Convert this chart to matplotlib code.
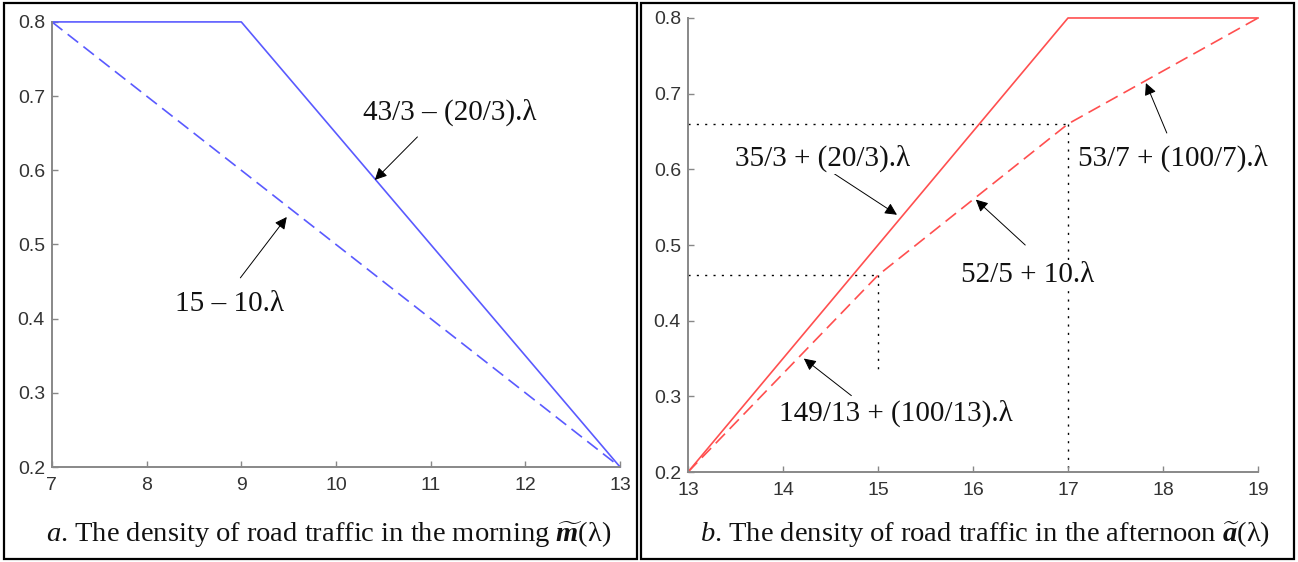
import matplotlib
matplotlib.use("Agg")
import matplotlib.pyplot as plt
from matplotlib.patches import Rectangle

plt.rcParams["font.family"] = "Liberation Sans"
plt.rcParams["xtick.labelsize"] = 14
plt.rcParams["ytick.labelsize"] = 14
plt.rcParams["mathtext.fontset"] = "custom"
plt.rcParams["mathtext.rm"] = "Liberation Serif"
plt.rcParams["mathtext.it"] = "Liberation Serif:italic"
plt.rcParams["mathtext.bf"] = "Liberation Serif:bold"
plt.rcParams["mathtext.bfit"] = "Liberation Serif:bold:italic"

# morning panel (a)
morning_x_solid = [7, 9, 13]
morning_y_solid = [0.8, 0.8, 0.2]
morning_x_dash = [7, 13]
morning_y_dash = [0.8, 0.2]

# afternoon panel (b)
after_x_solid = [13, 17, 19]
after_y_solid = [0.2, 0.8, 0.8]
after_x_dash = [13, 15, 17, 19]
after_y_dash = [0.2, 0.46, 0.66, 0.8]

morning_xticks = [7, 8, 9, 10, 11, 12, 13]
after_xticks = [13, 14, 15, 16, 17, 18, 19]
yticks = [0.2, 0.3, 0.4, 0.5, 0.6, 0.7, 0.8]

# (label, text position, arrow tail, arrow head)
morning_notes = [
    ("43/3 \u2013 (20/3).\u03bb", (11.2, 0.678), (10.86, 0.645), (10.41, 0.587)),
    ("15 \u2013 10.\u03bb", (8.88, 0.42), (8.99, 0.455), (9.48, 0.537)),
]
after_notes = [
    ("35/3 + (20/3).\u03bb", (14.42, 0.614), (14.53, 0.595), (15.2, 0.54)),
    ("52/5 + 10.\u03bb", (16.57, 0.46), (16.55, 0.5), (16.03, 0.56)),
    ("149/13 + (100/13).\u03bb", (15.19, 0.278), (14.72, 0.301), (14.22, 0.35)),
    ("53/7 + (100/7).\u03bb", (18.1, 0.614), (18.04, 0.648), (17.82, 0.714)),
]

BLUE = "#5a5aff"
RED = "#ff4f4f"
SERIF = "Liberation Serif"


def style_axes(ax, xlim, xticks):
    ax.set_xlim(*xlim)
    ax.set_ylim(0.2, 0.8)
    ax.set_xticks(xticks)
    ax.set_yticks(yticks)
    ax.set_xticklabels([str(t) for t in xticks])
    ax.set_yticklabels([f"{t:.1f}" for t in yticks])
    for s in ("top", "right"):
        ax.spines[s].set_visible(False)
    for s in ("left", "bottom"):
        ax.spines[s].set_color("#888888")
        ax.spines[s].set_linewidth(1.4)
    ax.tick_params(direction="in", length=4, width=1, color="#888888",
                   labelcolor="#333333")
    ax.tick_params(axis="x", pad=7)
    ax.tick_params(axis="y", pad=5)


def add_notes(ax, notes):
    for label, tpos, tail, head in notes:
        ax.annotate("", xy=head, xytext=tail,
                    arrowprops=dict(arrowstyle="-|>", color="black", lw=0.7,
                                    mutation_scale=18, shrinkA=0, shrinkB=0))
        ax.text(tpos[0], tpos[1], label, family=SERIF, fontsize=21,
                ha="center", va="center", color="#111111", zorder=5,
                bbox=dict(facecolor="white", edgecolor="none", pad=1))


fig = plt.figure(figsize=(12.98, 5.62), dpi=100)

ax_m = fig.add_axes([0.040, 0.169, 0.4377, 0.792])
ax_m.plot(morning_x_solid, morning_y_solid, color=BLUE, lw=1.2, clip_on=False)
ax_m.plot(morning_x_dash, morning_y_dash, color=BLUE, lw=1.2,
          linestyle=(0, (8, 4)), clip_on=False)
style_axes(ax_m, (7, 13), morning_xticks)
add_notes(ax_m, morning_notes)

ax_a = fig.add_axes([0.530, 0.160, 0.4392, 0.808])
dot = dict(color="black", lw=1.0, linestyle=(0, (1.5, 4.5)), zorder=1)
ax_a.plot([13, 17], [0.66, 0.66], **dot)
ax_a.plot([17, 17], [0.66, 0.2], **dot)
ax_a.plot([13, 15], [0.46, 0.46], **dot)
ax_a.plot([15, 15], [0.46, 0.335], **dot)
ax_a.plot(after_x_solid, after_y_solid, color=RED, lw=1.2, clip_on=False)
ax_a.plot(after_x_dash, after_y_dash, color=RED, lw=1.2,
          linestyle=(0, (8, 4)), clip_on=False)
style_axes(ax_a, (13, 19), after_xticks)
add_notes(ax_a, after_notes)

fig.text(0.253, 0.050,
         "$\\mathit{a}$. The density of road traffic in the morning "
         "$\\widetilde{\\mathbfit{m}}$(\u03bb)",
         family=SERIF, fontsize=20.5, ha="center", va="center", color="#111111")
fig.text(0.759, 0.050,
         "$\\mathit{b}$. The density of road traffic in the afternoon "
         "$\\widetilde{\\mathbfit{a}}$(\u03bb)",
         family=SERIF, fontsize=20.5, ha="center", va="center", color="#111111")

# panel frames
for x0, w in ((0.003, 0.488), (0.494, 0.503)):
    fig.add_artist(Rectangle((x0, 0.006), w, 0.988, transform=fig.transFigure,
                             fill=False, edgecolor="black", lw=1.6))

fig.savefig("out.png", dpi=100)
